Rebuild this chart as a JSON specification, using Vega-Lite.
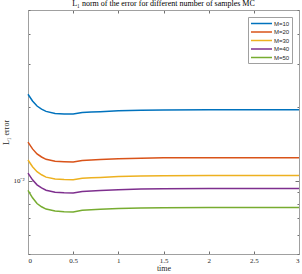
{
  "$schema": "https://vega.github.io/schema/vega-lite/v6.json",
  "autosize": "none",
  "width": 271,
  "height": 244,
  "padding": {"left": 28, "top": 10, "right": 3, "bottom": 20},
  "background": "white",
  "config": {
    "view": {"stroke": "#a0a0a0", "strokeWidth": 1},
    "axis": {
      "domainColor": "#a0a0a0",
      "tickColor": "#707070",
      "labelColor": "#262626",
      "titleColor": "#262626",
      "labelFont": "Liberation Serif",
      "titleFont": "Liberation Serif",
      "labelFontSize": 7,
      "titleFontSize": 8,
      "titleFontWeight": "normal",
      "grid": false
    }
  },
  "title": {
    "text": "L₁ norm of the error for different number of samples MC",
    "font": "Liberation Serif",
    "fontSize": 8,
    "fontWeight": "normal",
    "color": "#000000",
    "offset": 2
  },
  "data": {
    "values": [
      {"t": 0, "M": "M=10", "err": 0.02257},
      {"t": 0.05, "M": "M=10", "err": 0.02118},
      {"t": 0.1, "M": "M=10", "err": 0.0202},
      {"t": 0.15, "M": "M=10", "err": 0.01963},
      {"t": 0.2, "M": "M=10", "err": 0.01921},
      {"t": 0.3, "M": "M=10", "err": 0.01884},
      {"t": 0.4, "M": "M=10", "err": 0.01876},
      {"t": 0.5, "M": "M=10", "err": 0.01872},
      {"t": 0.6, "M": "M=10", "err": 0.01899},
      {"t": 0.7, "M": "M=10", "err": 0.01908},
      {"t": 0.8, "M": "M=10", "err": 0.01915},
      {"t": 1.0, "M": "M=10", "err": 0.0193},
      {"t": 1.25, "M": "M=10", "err": 0.01941},
      {"t": 1.5, "M": "M=10", "err": 0.01946},
      {"t": 2, "M": "M=10", "err": 0.0195},
      {"t": 2.5, "M": "M=10", "err": 0.0195},
      {"t": 3, "M": "M=10", "err": 0.0195},
      {"t": 0, "M": "M=20", "err": 0.01436},
      {"t": 0.05, "M": "M=20", "err": 0.01348},
      {"t": 0.1, "M": "M=20", "err": 0.01285},
      {"t": 0.15, "M": "M=20", "err": 0.01249},
      {"t": 0.2, "M": "M=20", "err": 0.01222},
      {"t": 0.3, "M": "M=20", "err": 0.01199},
      {"t": 0.4, "M": "M=20", "err": 0.01194},
      {"t": 0.5, "M": "M=20", "err": 0.01191},
      {"t": 0.6, "M": "M=20", "err": 0.01208},
      {"t": 0.7, "M": "M=20", "err": 0.01214},
      {"t": 0.8, "M": "M=20", "err": 0.01219},
      {"t": 1.0, "M": "M=20", "err": 0.01228},
      {"t": 1.25, "M": "M=20", "err": 0.01235},
      {"t": 1.5, "M": "M=20", "err": 0.01239},
      {"t": 2, "M": "M=20", "err": 0.01241},
      {"t": 2.5, "M": "M=20", "err": 0.01241},
      {"t": 3, "M": "M=20", "err": 0.01241},
      {"t": 0, "M": "M=30", "err": 0.01214},
      {"t": 0.05, "M": "M=30", "err": 0.01139},
      {"t": 0.1, "M": "M=30", "err": 0.01087},
      {"t": 0.15, "M": "M=30", "err": 0.01056},
      {"t": 0.2, "M": "M=30", "err": 0.01033},
      {"t": 0.3, "M": "M=30", "err": 0.01014},
      {"t": 0.4, "M": "M=30", "err": 0.01009},
      {"t": 0.5, "M": "M=30", "err": 0.01007},
      {"t": 0.6, "M": "M=30", "err": 0.01021},
      {"t": 0.7, "M": "M=30", "err": 0.01026},
      {"t": 0.8, "M": "M=30", "err": 0.0103},
      {"t": 1.0, "M": "M=30", "err": 0.01038},
      {"t": 1.25, "M": "M=30", "err": 0.01044},
      {"t": 1.5, "M": "M=30", "err": 0.01047},
      {"t": 2, "M": "M=30", "err": 0.01049},
      {"t": 2.5, "M": "M=30", "err": 0.01049},
      {"t": 3, "M": "M=30", "err": 0.01049},
      {"t": 0, "M": "M=40", "err": 0.01073},
      {"t": 0.05, "M": "M=40", "err": 0.01007},
      {"t": 0.1, "M": "M=40", "err": 0.009601},
      {"t": 0.15, "M": "M=40", "err": 0.009331},
      {"t": 0.2, "M": "M=40", "err": 0.009129},
      {"t": 0.3, "M": "M=40", "err": 0.008958},
      {"t": 0.4, "M": "M=40", "err": 0.008915},
      {"t": 0.5, "M": "M=40", "err": 0.008898},
      {"t": 0.6, "M": "M=40", "err": 0.009026},
      {"t": 0.7, "M": "M=40", "err": 0.009069},
      {"t": 0.8, "M": "M=40", "err": 0.009103},
      {"t": 1.0, "M": "M=40", "err": 0.009173},
      {"t": 1.25, "M": "M=40", "err": 0.009225},
      {"t": 1.5, "M": "M=40", "err": 0.009251},
      {"t": 2, "M": "M=40", "err": 0.009269},
      {"t": 2.5, "M": "M=40", "err": 0.009269},
      {"t": 3, "M": "M=40", "err": 0.009269},
      {"t": 0, "M": "M=50", "err": 0.00912},
      {"t": 0.05, "M": "M=50", "err": 0.0085},
      {"t": 0.1, "M": "M=50", "err": 0.00805},
      {"t": 0.15, "M": "M=50", "err": 0.00781},
      {"t": 0.2, "M": "M=50", "err": 0.00764},
      {"t": 0.3, "M": "M=50", "err": 0.0075},
      {"t": 0.4, "M": "M=50", "err": 0.00745},
      {"t": 0.5, "M": "M=50", "err": 0.00743},
      {"t": 0.6, "M": "M=50", "err": 0.00756},
      {"t": 0.7, "M": "M=50", "err": 0.00759},
      {"t": 0.8, "M": "M=50", "err": 0.00762},
      {"t": 1.0, "M": "M=50", "err": 0.00768},
      {"t": 1.25, "M": "M=50", "err": 0.00772},
      {"t": 1.5, "M": "M=50", "err": 0.00774},
      {"t": 2, "M": "M=50", "err": 0.007759},
      {"t": 2.5, "M": "M=50", "err": 0.007759},
      {"t": 3, "M": "M=50", "err": 0.007759}
    ]
  },
  "resolve": {"axis": {"x": "independent", "y": "independent"}},
  "layer": [
    {
      "mark": {"type": "line", "strokeWidth": 1.5},
      "encoding": {
        "x": {
          "field": "t", "type": "quantitative",
          "scale": {"domain": [0, 3], "nice": false},
          "axis": {
            "orient": "bottom",
            "title": "time",
            "values": [0, 0.5, 1, 1.5, 2, 2.5, 3],
            "format": "~g",
            "tickSize": -3,
            "labelPadding": 5,
            "titlePadding": 1
          }
        },
        "y": {
          "field": "err", "type": "quantitative",
          "scale": {"type": "log", "domain": [0.005, 0.05], "nice": false},
          "axis": {
            "orient": "left",
            "title": "L₁ error",
            "values": [0.005, 0.006, 0.007, 0.008, 0.009, 0.01, 0.02, 0.03, 0.04, 0.05],
            "labelExpr": "datum.value == 0.01 ? '10⁻²' : ''",
            "tickSize": {"condition": {"test": "datum.value == 0.01", "value": -4}, "value": -2},
            "labelPadding": 8,
            "titlePadding": 2
          }
        },
        "color": {
          "field": "M", "type": "nominal",
          "scale": {
            "domain": ["M=10", "M=20", "M=30", "M=40", "M=50"],
            "range": ["#0072BD", "#D95319", "#EDB120", "#7E2F8E", "#77AC30"]
          },
          "legend": {
            "orient": "none",
            "legendX": 220,
            "legendY": 7,
            "title": null,
            "symbolType": "M-1,0L5,0",
            "symbolSize": 49,
            "symbolStrokeWidth": 1.5,
            "labelFont": "Liberation Sans",
            "labelFontSize": 6,
            "labelColor": "#262626",
            "labelOffset": 15,
            "rowPadding": 0.5,
            "padding": 2,
            "strokeColor": "#a0a0a0",
            "fillColor": "white"
          }
        }
      }
    },
    {
      "mark": {"type": "line", "strokeOpacity": 0},
      "encoding": {
        "x": {
          "field": "t", "type": "quantitative",
          "axis": {
            "orient": "top", "title": null, "labels": false,
            "values": [0, 0.5, 1, 1.5, 2, 2.5, 3],
            "tickSize": -3
          }
        },
        "y": {
          "field": "err", "type": "quantitative",
          "axis": {
            "orient": "right", "title": null, "labels": false,
            "values": [0.005, 0.006, 0.007, 0.008, 0.009, 0.01, 0.02, 0.03, 0.04, 0.05],
            "tickSize": {"condition": {"test": "datum.value == 0.01", "value": -4}, "value": -2}
          }
        },
        "detail": {"field": "M"}
      }
    }
  ]
}
